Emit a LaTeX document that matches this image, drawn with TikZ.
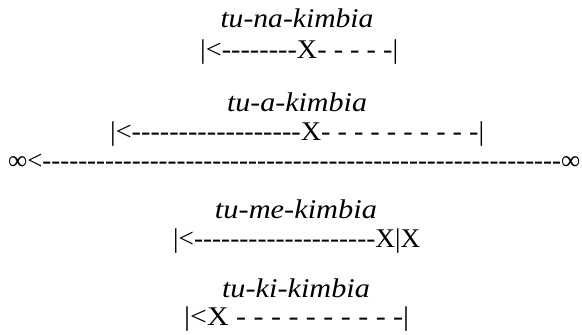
\documentclass[tikz,border=0pt]{standalone}
\usepackage{fontspec}
\usepackage{graphicx}
\setmainfont{Liberation Serif}[Ligatures=TeXOff]
\newcommand{\fitto}[2]{\resizebox{#1}{\height}{#2}}

\begin{document}
\begin{tikzpicture}[x=1pt,y=-1pt,
  lbl/.style={anchor=base,inner sep=0pt,font=\fontsize{27}{32}\selectfont\itshape},
  row/.style={anchor=base west,inner sep=0pt,font=\fontsize{27}{32}\selectfont}]
\useasboundingbox (0,0) rectangle (582,335);
% tense labels
\node[lbl] (naLbl) at (297,27) {\fitto{153pt}{tu-na-kimbia}};
\node[lbl] (aLbl) at (297,111) {\fitto{140pt}{tu-a-kimbia}};
\node[lbl] (meLbl) at (296,218) {\fitto{162pt}{tu-me-kimbia}};
\node[lbl] (kiLbl) at (296,297) {\fitto{148pt}{tu-ki-kimbia}};
% time lines
\node[row] (naRow) at (200,58) {\fitto{198pt}{|<--------X- - - - -|}};
\node[row] (aRow) at (110,140) {\fitto{374pt}{|<------------------X- - - - - - - - - -|}};
\node[row] (inf) at (8,169) {\fitto{572pt}{∞<----------------------------------------------------------∞}};
\node[row] (meRow) at (173,247) {\fitto{247pt}{|<--------------------X|X}};
\node[row] (kiRow) at (184,325) {\fitto{225pt}{|<X - - - - - - - - - -|}};
\end{tikzpicture}
\end{document}
